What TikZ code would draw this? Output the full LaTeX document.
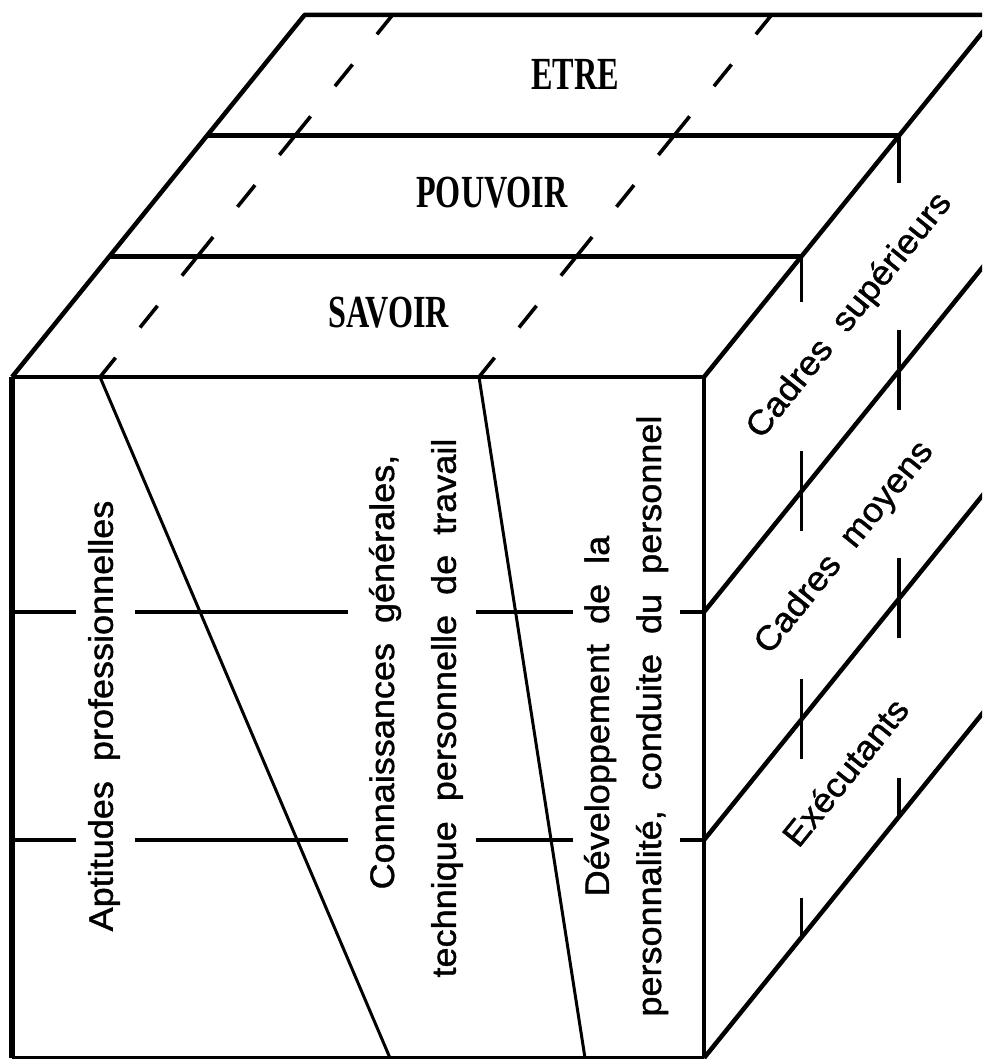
\documentclass[tikz,border=0pt]{standalone}
\usepackage{fontspec}
\usetikzlibrary{calc}
\newfontfamily\lblfont[FakeStretch=1.06,WordSpace=2,FakeBold=1.2]{Liberation Sans}
\newfontfamily\topfont[FakeStretch=0.70]{Liberation Serif}
\begin{document}
\begin{tikzpicture}[x=1pt,y=-1pt,line join=round,
  edge/.style={line width=4.5pt},
  inner/.style={line width=3pt},
  dsh/.style={line width=3.6pt},
  lbl/.style={font={\lblfont\fontsize{34pt}{40pt}\selectfont},inner sep=0pt},
  toplbl/.style={font={\topfont\bfseries\fontsize{46pt}{50pt}\selectfont},inner sep=0pt}]
\useasboundingbox (0,0) rectangle (982,1059);
\clip (0,0) rectangle (982,1059);
% corners
\coordinate (FTL) at (12,377);
\coordinate (FTR) at (704,377);
\coordinate (FBL) at (12,1058);
\coordinate (FBR) at (704,1058);
\coordinate (L1) at (109.5,256.3);
\coordinate (L2) at (207,135.7);
\coordinate (BTL) at (304.5,15);
\coordinate (R1) at (801.5,256.3);
\coordinate (R2) at (899,135.7);
\coordinate (BTR) at (996.5,15);
% front face
\draw[edge,line width=5.5pt] (FBL) -- (FTL);
\draw[edge] (FTL) -- (FTR) -- (FBR);
\draw[edge] (FBL) -- (FBR);
% top face
\draw[edge] (FTL) -- (BTL) -- (BTR);
\draw[edge] (FTR) -- (BTR);
\draw[edge] (L1) -- (R1);
\draw[edge] (L2) -- (R2);
% right face diagonals
\coordinate (RM1) at (704,612);
\coordinate (RM2) at (704,840);
\coordinate (RB1) at (996.5,250);
\coordinate (RB2) at (996.5,478);
\coordinate (RB3) at (996.5,696);
\draw[edge] (RM1) -- (RB1);
\draw[edge] (RM2) -- (RB2);
\draw[edge] (FBR) -- (RB3);
% front face diagonals
\coordinate (DA0) at (100,377);
\coordinate (DA1) at (390,1058);
\coordinate (DB0) at (479,377);
\coordinate (DB1) at (585,1058);
\draw[inner] (DA0) -- (DA1);
\draw[inner] (DB0) -- (DB1);
% top face dashed lines
\coordinate (TA) at (392.5,15);
\coordinate (TB) at (771.5,15);
\foreach \p/\q in {DA0/TA,DB0/TB}{
  \foreach \a/\b in {0/0.0533,0.1367/0.1967,0.28/0.3867,0.47/0.53,0.6133/0.72,0.8033/0.8633,0.9467/1}{
    \draw[dsh] ($(\p)!\a!(\q)$) -- ($(\p)!\b!(\q)$);
  }
}
% front horizontal dashed lines
\foreach \y in {612,840}{
  \foreach \a/\b in {12/76,135/348,476/573,680/704}{
    \draw[dsh] (\a,\y) -- (\b,\y);
  }
}
% right face vertical dashed lines
\foreach \a/\b in {256.3/302,451/531,679/759,898/936.3}{
  \draw[dsh] (801.5,\a) -- (801.5,\b);
}
\foreach \a/\b in {135.7/183,330/410,558/638,778/815.7}{
  \draw[dsh] (899,\a) -- (899,\b);
}
% top labels
\node[toplbl] (etre) at (575,74) {ETRE};
\node[toplbl] (pouvoir) at (492,193) {POUVOIR};
\node[toplbl] (savoir) at (389,313) {SAVOIR};
% front labels
\node[lbl,rotate=90] (apt) at (104,716) {Aptitudes professionnelles};
\node[lbl,rotate=90] (con1) at (385,672) {Connaissances générales,};
\node[lbl,rotate=90] (con2) at (447,708) {technique personnelle de travail};
\node[lbl,rotate=90] (dev1) at (600,716) {Développement de la};
\node[lbl,rotate=90] (dev2) at (652,716) {personnalité, conduite du personnel};
% right labels
\node[lbl,rotate=51.1] (csup) at (850,316) {Cadres supérieurs};
\node[lbl,rotate=51.1] (cmoy) at (845,548) {Cadres moyens};
\node[lbl,rotate=51.1] (exec) at (845,772) {Exécutants};
\end{tikzpicture}
\end{document}
